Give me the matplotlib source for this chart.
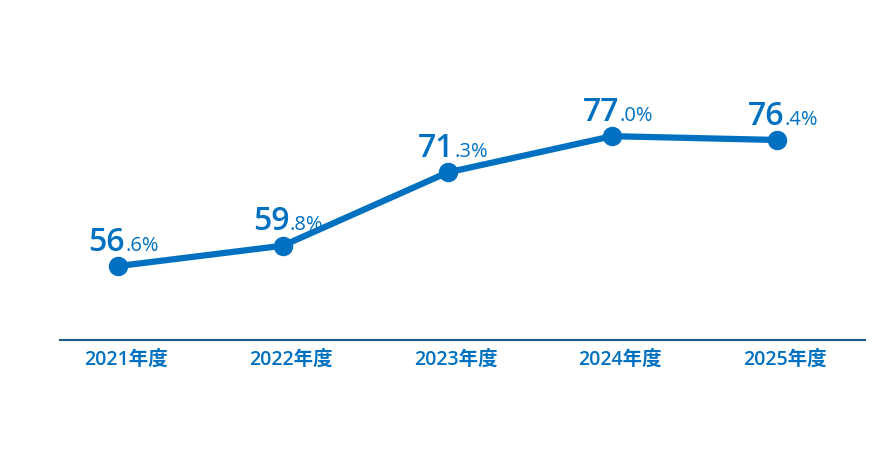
import matplotlib.pyplot as plt
import matplotlib.transforms as mtransforms

plt.rcParams['font.family'] = ['Open Sans', 'Noto Sans CJK JP', 'DejaVu Sans']

years = ['2021年度', '2022年度', '2023年度', '2024年度', '2025年度']
values = [56.6, 59.8, 71.3, 77.0, 76.4]

blue = '#0070c0'
fig = plt.figure(figsize=(8.9, 4.5), dpi=100)
ax = fig.add_axes([60/890, 110/450, 805/890, 320/450])
x = list(range(len(values)))
ax.plot(x, values, color=blue, lw=4.5, marker='o', ms=13, solid_capstyle='round')
ax.set_xlim(-0.352, 4.534)
ax.set_ylim(45, 45 + 320/6.37)

for s in ['top', 'right', 'left']:
    ax.spines[s].set_visible(False)
ax.spines['bottom'].set_color('#1c5a86')
ax.spines['bottom'].set_linewidth(1.5)
ax.set_yticks([])
ax.set_xticks(x)
ax.set_xticklabels(years, color=blue, fontsize=14, fontweight='semibold')
ax.tick_params(axis='x', length=0, pad=7)
# ラベルを少し右へずらす
shift = mtransforms.ScaledTranslation(0.08, 0, fig.dpi_scale_trans)
for lab in ax.get_xticklabels():
    lab.set_transform(lab.get_transform() + shift)

fig.canvas.draw()
r = fig.canvas.get_renderer()
for xi, v in zip(x, values):
    s = '%.1f' % v
    big, small = s.split('.')
    small = '.' + small + '%'
    t1 = ax.annotate(big, xy=(xi, v), xytext=(0, 11), textcoords='offset points',
                     fontsize=23, color=blue, fontweight='semibold', va='baseline', ha='left')
    t2 = ax.annotate(small, xy=(xi, v), xytext=(0, 11), textcoords='offset points',
                     fontsize=14.5, color=blue, va='baseline', ha='left')
    w1 = t1.get_window_extent(r).width * 72 / 100
    w2 = t2.get_window_extent(r).width * 72 / 100
    start = -(w1 + w2) / 2 + 4
    t1.set_position((start, 11))
    t2.set_position((start + w1, 11))

fig.savefig('out.png', dpi=100)
